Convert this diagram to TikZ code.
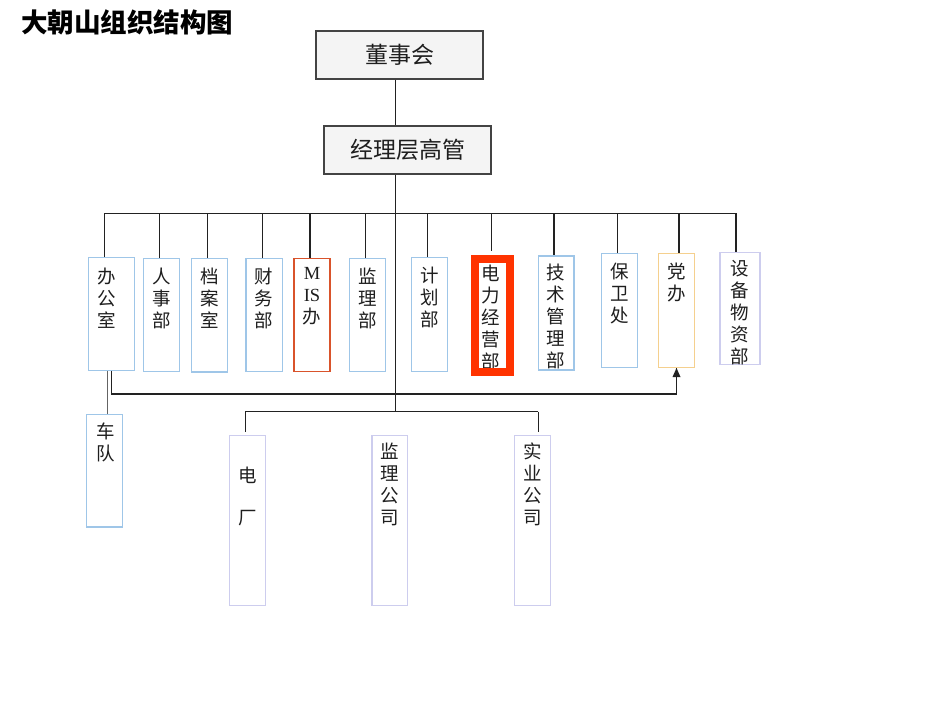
\documentclass[tikz,border=0pt]{standalone}
\usepackage{fontspec}
\setmainfont{Liberation Serif}
\newfontfamily\cjk{Noto Sans CJK SC}
\usetikzlibrary{arrows.meta}
\definecolor{lblue}{HTML}{9FC6E8}
\definecolor{lav}{HTML}{CDCDEE}
\definecolor{lorange}{HTML}{F5D08E}
\definecolor{misred}{HTML}{D9532B}
\definecolor{hotred}{HTML}{FF3300}
\definecolor{lnc}{HTML}{222222}
\definecolor{txc}{HTML}{1E1E1E}
\definecolor{topfill}{HTML}{F4F4F4}
\begin{document}
\begin{tikzpicture}[x=1pt,y=-1pt,
  conn/.style={draw=lnc,line width=1.25pt},
  topbox/.style={draw=lnc!85,fill=topfill,line width=1.2pt,minimum width=167pt,minimum height=48pt,inner sep=0pt,
     font=\cjk\fontsize{23}{27}\selectfont,text=txc},
  dept/.style={draw=lblue,line width=1.4pt,inner sep=0pt},
  lavbox/.style={draw=lav,line width=1.4pt,inner sep=0pt},
  vtxt/.style={anchor=north,inner sep=0pt,align=center,text=txc,font=\cjk\fontsize{18.5}{22}\selectfont},
]
\useasboundingbox (0,0) rectangle (950,713);

% title
\node[anchor=west,inner sep=0pt,font=\cjk\bfseries\fontsize{26.5}{30}\selectfont,text=black] (title) at (21,22) {大朝山组织结构图};

% top boxes
\node[topbox] (ceo) at (399.5,55) {董事会};
\node[topbox] (mgr) at (407.5,150) {经理层高管};

% department boxes
\node[dept,minimum width=46pt,minimum height=113.4pt] (b1) at (111.3,314) {};
\node[dept,minimum width=36pt,minimum height=113.4pt] (b2) at (161.3,315) {};
\node[dept,minimum width=36pt,minimum height=113.7pt] (b3) at (209.3,315.2) {};
\node[dept,minimum width=36.3pt,minimum height=113.4pt] (b4) at (264.2,315) {};
\node[draw=misred,line width=1.4pt,inner sep=0pt,minimum width=36pt,minimum height=113.4pt] (b5) at (312,315) {};
\node[dept,minimum width=36.4pt,minimum height=113.4pt] (b6) at (367.5,315) {};
\node[dept,minimum width=35.6pt,minimum height=114.4pt] (b7) at (429.5,314.5) {};
\node[dept,minimum width=35.7pt,minimum height=114pt] (b9) at (556.2,313) {};
\node[dept,minimum width=36pt,minimum height=114pt] (b10) at (619.3,310.3) {};
\node[draw=lorange,line width=1.4pt,inner sep=0pt,minimum width=36.4pt,minimum height=114pt] (b11) at (676.5,310.3) {};
\node[lavbox,minimum width=40pt,minimum height=111.6pt] (b12) at (740,308.5) {};

% lower boxes
\node[dept,minimum width=36pt,minimum height=112.7pt] (car) at (104.7,470.7) {};
\node[lavbox,minimum width=36pt,minimum height=170pt] (plant) at (247.3,520.3) {};
\node[lavbox,minimum width=35.7pt,minimum height=170pt] (supco) at (389.8,520.3) {};
\node[lavbox,minimum width=36pt,minimum height=170pt] (indco) at (532.3,520.3) {};

% texts
\node[vtxt] (t1) at (107,268) {办\\公\\室};
\node[vtxt] (t2) at (161.7,268) {人\\事\\部};
\node[vtxt] (t3) at (209.3,268) {档\\案\\室};
\node[vtxt] (t4) at (264.2,268) {财\\务\\部};
\node[vtxt] (t5) at (312,267.5) {{\rmfamily M}\\{\rmfamily IS}\\办};
\node[vtxt] (t6) at (367.5,268) {监\\理\\部};
\node[vtxt] (t7) at (429.5,267) {计\\划\\部};
\node[vtxt] (t8) at (490.5,265) {电\\力\\经\\营\\部};
\node[vtxt] (t9) at (556.2,264) {技\\术\\管\\理\\部};
\node[vtxt] (t10) at (619.3,262.5) {保\\卫\\处};
\node[vtxt] (t11) at (676.5,262.5) {党\\办};
\node[vtxt] (t12) at (740,260) {设\\备\\物\\资\\部};
\node[vtxt] (tcar) at (105.3,422.5) {车\\队};
\node[vtxt] (tplant) at (247.3,467) {电\\[20pt]厂};
\node[vtxt] (tsup) at (390,443) {监\\理\\公\\司};
\node[vtxt] (tind) at (532.3,443) {实\\业\\公\\司};

% highlighted box drawn over its text
\node[draw=hotred,line width=8pt,inner sep=0pt,minimum width=35.5pt,minimum height=113pt] (b8) at (492.7,315) {};

% connectors
\coordinate (tx) at (395.3,0);
\coordinate (busL) at (104.3,213.3);
\coordinate (busR) at (736,213.3);
\coordinate (d2) at (159.3,213.3);
\coordinate (d3) at (207.3,213.3);
\coordinate (d4) at (262.7,213.3);
\coordinate (d5) at (310,213.3);
\coordinate (d6) at (365.3,213.3);
\coordinate (d7) at (427.3,213.3);
\coordinate (d8) at (491.3,213.3);
\coordinate (d9) at (554,213.3);
\coordinate (d10) at (617.3,213.3);
\coordinate (d11) at (679,213.3);
\coordinate (lbL) at (245.3,411.7);
\coordinate (lbR) at (538.3,411.7);
\coordinate (ay) at (0,394);
\coordinate (cdx) at (107.7,0);

\draw[conn] (ceo.south -| tx) -- (mgr.north -| tx);
\draw[conn] (mgr.south -| tx) -- (tx |- lbL);
\draw[conn] (busL) -- (busR);
\draw[conn] (busL) -- (busL |- b1.north);
\draw[conn] (d2) -- (d2 |- b2.north);
\draw[conn] (d3) -- (d3 |- b3.north);
\draw[conn] (d4) -- (d4 |- b4.north);
\draw[conn] (d5) -- (d5 |- b5.north);
\draw[conn] (d6) -- (d6 |- b6.north);
\draw[conn] (d7) -- (d7 |- b7.north);
\draw[conn] (d8) -- ([yshift=4pt]d8 |- b8.north);
\draw[conn] (d9) -- (d9 |- b9.north);
\draw[conn] (d10) -- (d10 |- b10.north);
\draw[conn] (d11) -- (d11 |- b11.north);
\draw[conn] (busR) -- (busR |- b12.north);

\draw[conn] (b1.south) -- (b1.south |- ay) -| (b11.south);
\fill[lnc] (b11.south) -- ++(-4,9) -- ++(8,0) -- cycle;
\draw[conn,draw=lnc!70] (b1.south -| cdx) -- (car.north -| cdx);

\draw[conn] (lbL) -- (lbR);
\draw[conn] (lbL) -- ([yshift=3pt]lbL |- plant.north);
\draw[conn] (lbR) -- ([yshift=3pt]lbR |- indco.north);
\end{tikzpicture}
\end{document}
